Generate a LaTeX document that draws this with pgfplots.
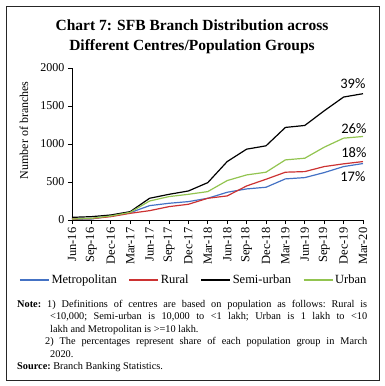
\documentclass[border=0pt]{standalone}
\usepackage{pgfplots}
\pgfplotsset{compat=1.18}
\usepackage{fontspec}
\setmainfont{Liberation Serif}
\newfontfamily\pctfont{Carlito}
\definecolor{cMetro}{RGB}{68,114,196}
\definecolor{cRural}{RGB}{204,50,50}
\definecolor{cUrban}{RGB}{146,196,80}
\begin{document}
\begin{tikzpicture}[x=1pt,y=1pt]
\useasboundingbox (0,0) rectangle (385,-386);
\draw[line width=0.8pt,black!85] (6,-6) rectangle (379,-380);
\node[font=\fontsize{15.5}{20}\selectfont\bfseries,align=center] at (192,-37) {Chart 7: SFB Branch Distribution across\\Different Centres/Population Groups};
\begin{axis}[
  at={(72pt,-220pt)}, anchor=south west,
  scale only axis, width=291pt, height=152pt,
  xmin=0, xmax=15, ymin=0, ymax=2000,
  axis x line*=bottom, axis y line*=left,
  axis line style={black, line width=0.6pt},
  tick style={black, line width=0.6pt},
  tick align=outside, major tick length=4pt,
  xtick={0,...,15},
  xticklabels={Jun-16,Sep-16,Dec-16,Mar-17,Jun-17,Sep-17,Dec-17,Mar-18,Jun-18,Sep-18,Dec-18,Mar-19,Jun-19,Sep-19,Dec-19,Mar-20},
  xticklabel style={rotate=90, anchor=east, font=\fontsize{12.5}{13}\selectfont},
  ytick={0,500,1000,1500,2000},
  yticklabel style={font=\fontsize{12}{13}\selectfont},
  /pgf/number format/assume math mode=true,
  /pgf/number format/1000 sep={},
  ylabel={Number of branches},
  ylabel style={at={(axis description cs:-0.165,0.59)}, anchor=center, font=\fontsize{12}{13}\selectfont},
  legend columns=4,
  legend style={draw=none, at={(axis description cs:0.419,-0.395)}, anchor=center, font=\fontsize{12.5}{14}\selectfont,
    /tikz/every even column/.append style={column sep=10pt}},
  legend image code/.code={\draw[#1, line width=1.1pt] (0pt,0pt) -- (29pt,0pt);},
  every axis plot/.append style={line width=1.2pt, no marks},
  clip=false,
]
\addplot[cMetro] coordinates {(0,9)(1,13)(2,53)(3,97)(4,189)(5,220)(6,242)(7,286)(8,365)(9,409)(10,431)(11,541)(12,558)(13,624)(14,703)(15,743)};
\addlegendentry{Metropolitan}
\addplot[cRural] coordinates {(0,13)(1,18)(2,44)(3,88)(4,123)(5,176)(6,207)(7,286)(8,317)(9,448)(10,536)(11,629)(12,637)(13,703)(14,739)(15,769)};
\addlegendentry{Rural}
\addplot[black] coordinates {(0,35)(1,44)(2,66)(3,110)(4,286)(5,338)(6,382)(7,492)(8,769)(9,932)(10,976)(11,1218)(12,1244)(13,1437)(14,1618)(15,1662)};
\addlegendentry{Semi-urban}
\addplot[cUrban] coordinates {(0,13)(1,22)(2,53)(3,101)(4,250)(5,308)(6,338)(7,374)(8,519)(9,593)(10,629)(11,791)(12,813)(13,958)(14,1077)(15,1099)};
\addlegendentry{Urban}
\node[font=\pctfont\fontsize{14.5}{16}\selectfont] at (axis cs:14.48,1789) {39\%};
\node[font=\pctfont\fontsize{14.5}{16}\selectfont] at (axis cs:14.53,1197) {26\%};
\node[font=\pctfont\fontsize{14.5}{16}\selectfont] at (axis cs:14.53,881) {18\%};
\node[font=\pctfont\fontsize{14.5}{16}\selectfont] at (axis cs:14.48,566) {17\%};
\end{axis}
\node[anchor=north west, inner sep=0pt, text width=350pt, align=justify, font=\fontsize{10.3}{12.5}\selectfont] at (17,-300) {%
\setlength{\parindent}{0pt}\frenchspacing
\hangindent=33pt \hangafter=1 \textbf{Note:} 1)~Definitions of centres are based on population as follows: Rural is\linebreak
<10,000; Semi-urban is 10,000 to <1 lakh; Urban is 1 lakh to <10\linebreak
lakh and Metropolitan is >=10 lakh.\par
\hangindent=33pt \hangafter=1 \hspace*{28pt}2)~The percentages represent share of each population group in March\linebreak
2020.\par
\textbf{Source:} Branch Banking Statistics.};
\end{tikzpicture}
\end{document}
